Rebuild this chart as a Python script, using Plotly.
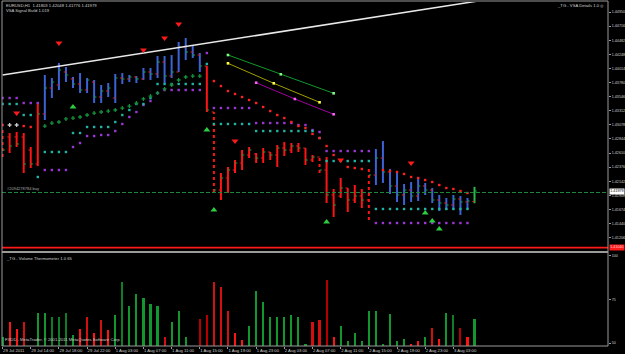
import plotly.graph_objects as go

# ---------------- data ----------------
bars = list(range(68))
high = [1.42992, 1.42942, 1.42959, 1.42942, 1.42710, 1.43457, 1.43905, 1.43855, 1.44104, 1.44038,
        1.43872, 1.43938, 1.43855, 1.43822, 1.43739, 1.43772, 1.43922, 1.43938, 1.43905, 1.43888,
        1.44021, 1.44021, 1.44220, 1.44220, 1.44237, 1.44453, 1.44519, 1.44386, 1.44270, 1.44054,
        1.43291, 1.42278, 1.42378, 1.42494, 1.42660, 1.42710, 1.42610, 1.42693, 1.42627, 1.42743,
        1.42793, 1.42776, 1.42776, 1.42693, 1.42577, 1.42544, 1.42544, 1.42013, 1.42195, 1.42029,
        1.42079, 1.42013, 1.42345, 1.42677, 1.42809, 1.42345, 1.42295, 1.42096, 1.42129, 1.42212,
        1.42112, 1.42029, 1.41913, 1.41863, 1.41913, 1.41896, 1.41863, 1.42048]
low = [1.42544, 1.42610, 1.42710, 1.42278, 1.42361, 1.42394, 1.43158, 1.43523, 1.43656, 1.43789,
       1.43689, 1.43606, 1.43606, 1.43440, 1.43440, 1.43540, 1.43440, 1.43756, 1.43789, 1.43772,
       1.43822, 1.43822, 1.43855, 1.43772, 1.43855, 1.43955, 1.44154, 1.44187, 1.43955, 1.43291,
       1.41963, 1.41830, 1.41946, 1.42278, 1.42328, 1.42527, 1.42444, 1.42444, 1.42494, 1.42378,
       1.42560, 1.42610, 1.42627, 1.42411, 1.42461, 1.42278, 1.41780, 1.41548, 1.41863, 1.41631,
       1.41780, 1.41697, 1.41498, 1.42079, 1.42112, 1.41930, 1.41797, 1.41747, 1.41797, 1.41813,
       1.41913, 1.41780, 1.41647, 1.41664, 1.41664, 1.41581, 1.41681, 1.41776]
opens = [1.42975, 1.42876, 1.42876, 1.42876, 1.42660, 1.42428, 1.43258, 1.43689, 1.43739, 1.43955,
         1.43839, 1.43756, 1.43656, 1.43789, 1.43540, 1.43639, 1.43523, 1.43855, 1.43839, 1.43872,
         1.43839, 1.43955, 1.43922, 1.44121, 1.43888, 1.43955, 1.44370, 1.44287, 1.44237, 1.44054,
         1.43291, 1.41996, 1.42195, 1.42328, 1.42444, 1.42577, 1.42594, 1.42527, 1.42627, 1.42577,
         1.42693, 1.42660, 1.42726, 1.42693, 1.42494, 1.42544, 1.42328, 1.41913, 1.41896, 1.42029,
         1.41830, 1.41896, 1.41830, 1.42245, 1.42527, 1.42295, 1.42062, 1.41913, 1.41996, 1.41896,
         1.42062, 1.41996, 1.41830, 1.41780, 1.41747, 1.41847, 1.41797, 1.41803]
closes = [1.42660, 1.42726, 1.42760, 1.42428, 1.42428, 1.43258, 1.43689, 1.43789, 1.43988, 1.43905,
          1.43756, 1.43656, 1.43822, 1.43540, 1.43639, 1.43689, 1.43855, 1.43839, 1.43872, 1.43839,
          1.43955, 1.43922, 1.44121, 1.43888, 1.43955, 1.44370, 1.44287, 1.44237, 1.44054, 1.43324,
          1.41996, 1.42195, 1.42328, 1.42444, 1.42577, 1.42660, 1.42527, 1.42627, 1.42577, 1.42693,
          1.42660, 1.42726, 1.42693, 1.42494, 1.42544, 1.42328, 1.41913, 1.41747, 1.42029, 1.41830,
          1.41896, 1.41830, 1.42245, 1.42527, 1.42295, 1.42062, 1.41913, 1.41996, 1.41896, 1.42062,
          1.41996, 1.41830, 1.41780, 1.41747, 1.41847, 1.41797, 1.41813, 1.41979]
bar_kind = ["down"] * 6 + ["up"] * 23 + ["down"] * 24 + ["up"] * 14 + ["last"]

# dotted support / resistance levels (bar index, price)
purple_idx = list(range(67))
purple_val = [1.43523, 1.43523, 1.43523, 1.43440, 1.43440, 1.43440, 1.42328, 1.42328, 1.42328,
              1.42328, 1.42710, 1.42776, 1.42892, 1.42892, 1.42909, 1.42909, 1.42975, 1.43092,
              1.43208, 1.43291, 1.43407, 1.43473, 1.43606, 1.43656, 1.43656, 1.43656, 1.43656,
              1.43656, 1.43656, 1.44270, 1.43357, 1.43357, 1.43357, 1.43357, 1.43357, 1.43357,
              1.43108, 1.43108, 1.43108, 1.43108, 1.43108, 1.43108, 1.43075, 1.43075, 1.42992,
              1.42959, 1.42643, 1.42643, 1.42643, 1.42643, 1.42643, 1.42643, 1.42643, 1.41448,
              1.41448, 1.41448, 1.41448, 1.41448, 1.41448, 1.41448, 1.41448, 1.41448, 1.41448,
              1.41448, 1.41448, 1.41448, 1.41448]
teal_idx = list(range(67))
teal_val = [1.43424, 1.43424, 1.43424, 1.43241, 1.43241, 1.42212, 1.42627, 1.42627, 1.42627,
            1.42627, 1.42942, 1.42942, 1.43042, 1.43042, 1.43042, 1.43042, 1.43125, 1.43241,
            1.43324, 1.43424, 1.43424, 1.43523, 1.43756, 1.43756, 1.43756, 1.43756, 1.43756,
            1.43756, 1.43756, 1.44088, 1.43092, 1.43092, 1.43092, 1.43092, 1.43092, 1.43092,
            1.42975, 1.42975, 1.42975, 1.42975, 1.42975, 1.42975, 1.42975, 1.42975, 1.42975,
            1.42859, 1.42477, 1.42477, 1.42477, 1.42477, 1.42477, 1.42477, 1.42477, 1.41681,
            1.41681, 1.41681, 1.41681, 1.41681, 1.41681, 1.41681, 1.41681, 1.41681, 1.41681,
            1.41681, 1.41681, 1.41681, 1.41681]
green_idx = [6, 7, 8, 9, 10, 11, 12, 13, 14, 15, 16, 17, 18, 19, 20, 21, 22, 23, 24, 25, 26, 27, 28]
green_val = [1.43058, 1.43108, 1.43125, 1.43175, 1.43191, 1.43208, 1.43241, 1.43274, 1.43291,
             1.43307, 1.43324, 1.43357, 1.43390, 1.43440, 1.43507, 1.43556, 1.43606, 1.43673,
             1.43739, 1.43822, 1.43872, 1.43888, 1.43888]
red_idx = [0, 3, 4, 30, 31, 32, 33, 34, 35, 36, 37, 38, 39, 40, 41, 42, 43, 44, 45, 46, 47, 49,
           50, 51, 54, 55, 56, 57, 58, 59, 60, 61, 62, 63, 64, 65, 66]
red_val = [1.43075, 1.43058, 1.43042, 1.43805, 1.43722, 1.43639, 1.43590, 1.43540, 1.43490,
           1.43440, 1.43374, 1.43307, 1.43241, 1.43191, 1.43125, 1.43058, 1.43025, 1.42926,
           1.42859, 1.42726, 1.42577, 1.42378, 1.42361, 1.42345, 1.42328, 1.42311, 1.42295,
           1.42262, 1.42212, 1.42195, 1.42162, 1.42129, 1.42079, 1.42029, 1.42013, 1.41979,
           1.41946]
grey_idx = [1, 2]
grey_val = [1.43075, 1.43075]

# signal arrows
buy_idx = [10, 29, 30, 46, 60, 61, 62]
buy_val = [1.43374, 1.42992, 1.41664, 1.41465, 1.41614, 1.41481, 1.41349]
sell_idx = [2, 8, 20, 23, 25, 33, 48, 58]
sell_val = [1.43274, 1.44436, 1.44320, 1.44519, 1.44752, 1.42809, 1.42494, 1.42444]

# channel lines (start, middle, end)
chan_green_idx = [32, 39.5, 47]
chan_green_val = [1.44237, 1.43917, 1.43601]
chan_yellow_idx = [32, 38.5, 45]
chan_yellow_val = [1.44099, 1.43767, 1.43452]
chan_magenta_idx = [36, 41.5, 47]
chan_magenta_val = [1.43777, 1.43507, 1.43253]

# white trend line
trend_idx = [0, 80]
trend_val = [1.43905, 1.45361]

order_price = 1.41955
stop_price = 1.41040
last_price = 1.41979

# volume thermometer
volume = [53.6, 62.2, 57.9, 62.2, None, 67.4, 67.4, 65.1, 65.1, 67.4,
          54.6, 57.9, 64.8, 55.6, 63.2, 57.5, 66.1, 85.2, 71.3, 78.0,
          75.7, 72.4, 71.3, 53.3, 61.9, 68.4, 53.3, None, 63.8, 66.1,
          85.2, 82.0, 68.4, 55.6, 51.7, 59.8, 79.9, 73.7, 65.1, 65.1,
          65.1, 66.1, 65.1, 49.4, 62.2, 63.2, 86.2, 53.6, 59.8, 51.3,
          55.6, 51.3, 68.4, 68.4, 49.4, 66.5, 51.3, 52.5, 49.4, 51.3,
          53.3, 58.4, 52.2, 67.4, 66.1, 58.4, 53.3, 63.8]
vol_kind = (list("grrrgggggg") + list("grrrrrgggg") + list("gggrggggdd") + list("rrrrrggggg")
            + list("ggggrrdrgg") + list("ggggggggrr") + list("grrggdrg"))

# axis labels
price_ticks = [1.44950, 1.44716, 1.44482, 1.44248, 1.44014, 1.43780, 1.43546, 1.43312, 1.43078,
               1.42844, 1.42610, 1.42376, 1.42142, 1.41908, 1.41674, 1.41440, 1.41206, 1.40972]
price_tick_text = ["1.44950", "1.44716", "1.44482", "1.44248", "1.44014", "1.43780", "1.43546",
                   "1.43312", "1.43078", "1.42844", "1.42610", "1.42376", "1.42142", "1.41908",
                   "1.41674", "1.41440", "1.41206", "1.40972"]
time_ticks = [0, 4, 8, 12, 16, 20, 24, 28, 32, 36, 40, 44, 48, 52, 56, 60, 64]
time_labels = ["29 Jul 2011", "29 Jul 14:00", "29 Jul 18:00", "29 Jul 22:00", "1 Aug 03:00",
               "1 Aug 07:00", "1 Aug 11:00", "1 Aug 15:00", "1 Aug 19:00", "1 Aug 23:00",
               "2 Aug 03:00", "2 Aug 07:00", "2 Aug 11:00", "2 Aug 15:00", "2 Aug 19:00",
               "2 Aug 23:00", "3 Aug 03:00"]
vol_ticks = [100, 75, 50]

# ---------------- styles ----------------
W, H = 625, 354
def px_x(p):
    return p / W
def px_y(p):
    return 1 - p / H

BG = "#000000"
FRAME = "#9a9a9a"
TXT = "#cfcfcf"
BLUE = "#3b62d6"
RED = "#ff1414"
DRED = "#b40000"
GRN = "#12962e"
FONT = "Liberation Sans, Arial, sans-serif"
AX_FONT = dict(size=3.7, color=TXT, family=FONT)
dotted_bars = {0, 30, 45, 52}
dotted_vol = {3, 7, 8, 9, 12, 14, 17, 23, 30, 31, 32, 44, 45, 61, 64}
TW = 0.32

fig = go.Figure()

# --- price bars ---
def seg_lists(sel):
    xs, ys = [], []
    for i in sel:
        xs += [bars[i], bars[i], None]
        ys += [low[i], high[i], None]
    return xs, ys

kind_color = {"up": BLUE, "down": RED, "last": "#2fb84a"}
for kind, col in kind_color.items():
    for dotted in (False, True):
        sel = [i for i in bars if bar_kind[i] == kind and ((i in dotted_bars) == dotted)]
        if not sel:
            continue
        xs, ys = seg_lists(sel)
        fig.add_trace(go.Scatter(x=xs, y=ys, mode="lines", yaxis="y", xaxis="x",
                                 line=dict(color=col, width=2, dash="dot" if dotted else "solid"),
                                 hoverinfo="skip"))
# open / close ticks
ox, oy, cx, cy = [], [], [], []
for i in bars:
    ox += [bars[i] - TW, bars[i], None]
    oy += [opens[i], opens[i], None]
    cx += [bars[i], bars[i] + TW, None]
    cy += [closes[i], closes[i], None]
fig.add_trace(go.Scatter(x=ox, y=oy, mode="lines", line=dict(color="#e02020", width=1),
                         hoverinfo="skip"))
fig.add_trace(go.Scatter(x=cx, y=cy, mode="lines", line=dict(color="#1aa03a", width=1),
                         hoverinfo="skip"))

# --- level dots ---
for xi, yv, col, sym, sz in [
    (purple_idx, purple_val, "#9a35d6", "square", 2.4),
    (teal_idx, teal_val, "#1fb3a3", "square", 2.4),
    (green_idx, green_val, "#14913c", "cross", 3.2),
    (red_idx, red_val, "#ff2020", "square", 2.4),
    (grey_idx, grey_val, "#c8c8c8", "cross", 3.2),
]:
    fig.add_trace(go.Scatter(x=xi, y=yv, mode="markers",
                             marker=dict(color=col, symbol=sym, size=sz, line=dict(width=0)),
                             hoverinfo="skip"))

# --- channel lines ---
for xi, yv, lc, mc in [
    (chan_green_idx, chan_green_val, "#0f9a2a", "#7dff7d"),
    (chan_yellow_idx, chan_yellow_val, "#a0a000", "#ffff40"),
    (chan_magenta_idx, chan_magenta_val, "#a000a0", "#ff60ff"),
]:
    fig.add_trace(go.Scatter(x=xi, y=yv, mode="lines+markers",
                             line=dict(color=lc, width=1),
                             marker=dict(color=mc, size=2.6, symbol="square"),
                             hoverinfo="skip"))

# --- trend line ---
fig.add_trace(go.Scatter(x=trend_idx, y=trend_val, mode="lines",
                         line=dict(color="#e8e8e8", width=1.5), hoverinfo="skip"))

# --- arrows ---
fig.add_trace(go.Scatter(x=buy_idx, y=buy_val, mode="markers",
                         marker=dict(symbol="triangle-up", size=6, color="#2ecc40"),
                         hoverinfo="skip"))
fig.add_trace(go.Scatter(x=sell_idx, y=sell_val, mode="markers",
                         marker=dict(symbol="triangle-down", size=6, color="#ff1a1a"),
                         hoverinfo="skip"))

# --- volume bars ---
vcol = {"g": GRN, "r": RED, "d": DRED}
for k, col in vcol.items():
    sel = [i for i in bars if vol_kind[i] == k and volume[i] is not None]
    fig.add_trace(go.Bar(x=[bars[i] for i in sel], y=[volume[i] for i in sel],
                         xaxis="x", yaxis="y2", width=0.3,
                         marker=dict(color=col, line=dict(width=0),
                                     pattern=dict(shape=["-" if i in dotted_vol else "" for i in sel],
                                                  fgcolor="#000000", bgcolor=col, size=2,
                                                  solidity=0.35)),
                         hoverinfo="skip"))

X0, X1 = px_x(2), px_x(608)
fig.update_layout(
    width=W, height=H, margin=dict(l=0, r=0, t=0, b=0, autoexpand=False),
    paper_bgcolor=BG, plot_bgcolor=BG, showlegend=False, bargap=0,
    font=dict(family=FONT, size=4, color=TXT),
    xaxis=dict(domain=[X0, X1], range=[-0.08, 85.95], anchor="y2", automargin=False,
               tickvals=time_ticks, ticktext=time_labels, ticklabelposition="outside right",
               tickangle=0, ticks="outside", ticklen=2, tickcolor=FRAME, tickwidth=1,
               tickfont=dict(size=4.2, color=TXT, family=FONT),
               showgrid=False, zeroline=False, showline=False),
    yaxis=dict(domain=[px_y(250), px_y(2)], range=[1.41000, 1.45117], side="right", anchor="x",
               automargin=False, tickvals=price_ticks, ticktext=price_tick_text,
               ticks="outside", ticklen=2, tickcolor=FRAME, tickfont=AX_FONT,
               showgrid=False, zeroline=False, showline=False),
    yaxis2=dict(domain=[px_y(346), px_y(253)], range=[48.3, 101.7], side="right", anchor="x",
                automargin=False, tickvals=vol_ticks, ticktext=[str(v) for v in vol_ticks],
                ticks="outside", ticklen=2, tickcolor=FRAME, tickfont=AX_FONT,
                showgrid=False, zeroline=False, showline=False),
)

shapes = []
shapes.append(dict(type="line", xref="paper", yref="y", x0=X0, x1=X1, y0=order_price,
                   y1=order_price, line=dict(color="#1f8a3c", width=1, dash="4px,2px")))
shapes.append(dict(type="line", xref="paper", yref="y", x0=X0, x1=X1, y0=stop_price,
                   y1=stop_price, line=dict(color="#ff1a1a", width=1.6)))
for (xa, ya, xb, yb, w) in [(2, 1, 608, 1, 1), (2, 1, 2, 346, 1), (608, 1, 608, 346, 1),
                             (2, 346, 608, 346, 1), (2, 252, 608, 252, 2)]:
    shapes.append(dict(type="line", xref="paper", yref="paper", x0=px_x(xa), y0=px_y(ya),
                       x1=px_x(xb), y1=px_y(yb), line=dict(color=FRAME, width=w)))
fig.update_layout(shapes=shapes)

ann = [
    dict(x=px_x(4), y=px_y(5), text="EURUSD,H1  1.41803 1.42048 1.41776 1.41979"),
    dict(x=px_x(4), y=px_y(11), text="VSA Signal Build 1.019"),
    dict(x=px_x(5), y=px_y(188), text="#2094278784 buy", font=dict(size=4, color="#a8a8a8", family=FONT)),
    dict(x=px_x(4), y=px_y(258), text="_TG - Volume Thermometer 1.0 65"),
    dict(x=px_x(3), y=px_y(339), text="FXDD - MetaTrader, \u00a9 2001-2011 MetaQuotes Software Corp."),
]
for a in ann:
    a.update(xref="paper", yref="paper", xanchor="left", yanchor="middle", showarrow=False)
    a.setdefault("font", dict(size=4.2, color=TXT, family=FONT))
ann.append(dict(x=px_x(606), y=px_y(5), xref="paper", yref="paper", xanchor="right",
                yanchor="middle", showarrow=False, text="_TG - VSA Details 1.0 \u25ce",
                font=dict(size=4.2, color=TXT, family=FONT)))
ann.append(dict(x=px_x(609), y=last_price, xref="paper", yref="y", xanchor="left",
                yanchor="middle", showarrow=False, text="1.41979", bgcolor="#ffffff",
                borderpad=0.3, font=dict(size=3.7, color="#000000", family=FONT)))
ann.append(dict(x=px_x(609), y=stop_price, xref="paper", yref="y", xanchor="left",
                yanchor="middle", showarrow=False, text="1.41040", bgcolor="#ff1a1a",
                borderpad=0.3, font=dict(size=3.7, color="#ffd0d0", family=FONT)))
fig.update_layout(annotations=ann)

fig.write_html("out.html", config={"displayModeBar": False})
